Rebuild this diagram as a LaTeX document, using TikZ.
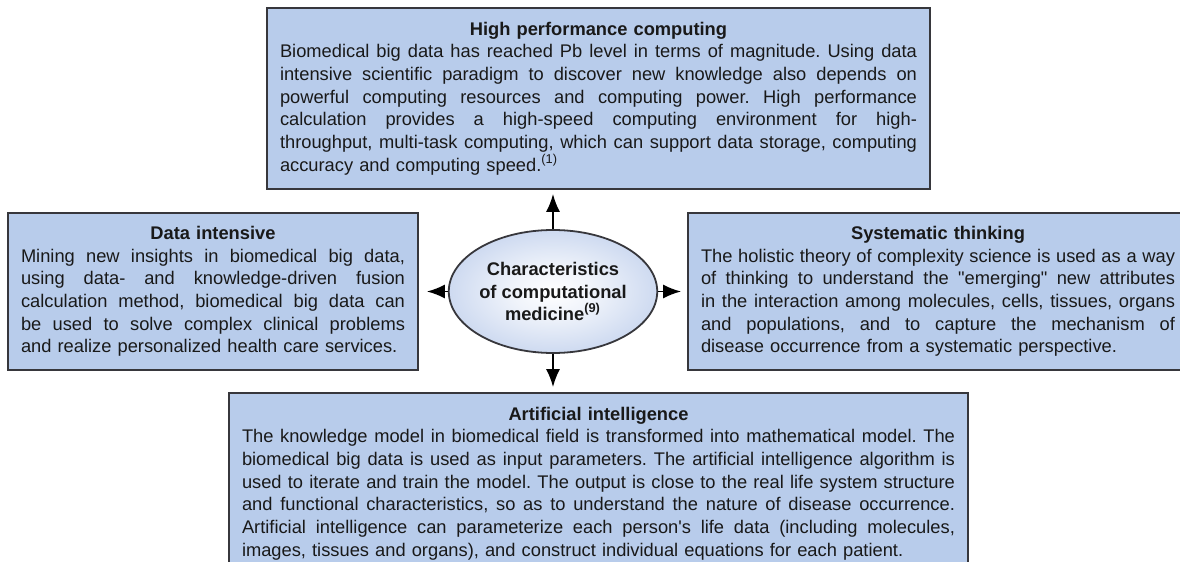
\documentclass[tikz,border=0pt]{standalone}
\usepackage{fontspec}
\setmainfont{Liberation Sans}[Ligatures=TeXOff]
\usetikzlibrary{arrows.meta,shapes.geometric}
\frenchspacing

\definecolor{boxblue}{RGB}{184,204,235}
\definecolor{coreblue}{RGB}{150,176,224}
\definecolor{edgegray}{RGB}{55,55,60}
\pgfdeclareradialshading{coreshade}{\pgfpoint{0bp}{0bp}}{color(0bp)=(white); color(10bp)=(white!85!coreblue); color(50bp)=(coreblue)}

% one printed line of a box: justified, last line, title
\newcommand{\jl}[1]{\hbox to\hsize{\spaceskip=0.278em plus 1fil minus 0.09em\relax #1}}
\newcommand{\lastl}[1]{\hbox to\hsize{#1\hfil}}
\newcommand{\ttl}[1]{\hbox to\hsize{\hfil\bfseries #1\hfil}}

\begin{document}
\begin{tikzpicture}[x=0.5pt,y=-0.5pt,
  txt/.style={font=\fontsize{9.15}{11.35}\selectfont, text=black!90},
  card/.style={txt, draw=edgegray, line width=0.9pt, fill=boxblue, inner xsep=6.5pt, inner ysep=0pt},
  core/.style={ellipse, draw=edgegray, line width=0.9pt, shading=coreshade, minimum width=100pt, minimum height=61.5pt, inner sep=0pt, align=center, text=black!90, font=\fontsize{9.15}{11.2}\selectfont\bfseries},
  arr/.style={-{Latex[length=9pt,width=7pt]}, line width=0.9pt}]

  \useasboundingbox (0,0) rectangle (1180,562);

  \node[card, text width=318.5pt, minimum height=90.5pt] (H) at (598.5,98.5) {%
    \ttl{High performance computing}
    \jl{Biomedical big data has reached Pb level in terms of magnitude. Using data}
    \jl{intensive scientific paradigm to discover new knowledge also depends on}
    \jl{powerful computing resources and computing power. High performance}
    \jl{calculation provides a high-speed computing environment for high-}
    \jl{throughput, multi-task computing, which can support data storage, computing}
    \lastl{accuracy and computing speed.\textsuperscript{(1)}}};

  \node[card, text width=192pt, minimum height=78.5pt] (D) at (213,291.5) {%
    \ttl{Data intensive}
    \jl{Mining new insights in biomedical big data,}
    \jl{using data- and knowledge-driven fusion}
    \jl{calculation method, biomedical big data can}
    \jl{be used to solve complex clinical problems}
    \lastl{and realize personalized health care services.}};

  \node[card, text width=237pt, minimum height=78.5pt] (S) at (938,291.5) {%
    \ttl{Systematic thinking}
    \jl{The holistic theory of complexity science is used as a way}
    \jl{of thinking to understand the "emerging" new attributes}
    \jl{in the interaction among molecules, cells, tissues, organs}
    \jl{and populations, and to capture the mechanism of}
    \lastl{disease occurrence from a systematic perspective.}};

  \node[card, text width=356.5pt, minimum height=90.5pt] (A) at (598.5,483.5) {%
    \ttl{Artificial intelligence}
    \jl{The knowledge model in biomedical field is transformed into mathematical model. The}
    \jl{biomedical big data is used as input parameters. The artificial intelligence algorithm is}
    \jl{used to iterate and train the model. The output is close to the real life system structure}
    \jl{and functional characteristics, so as to understand the nature of disease occurrence.}
    \jl{Artificial intelligence can parameterize each person's life data (including molecules,}
    \lastl{images, tissues and organs), and construct individual equations for each patient.}};

  \node[core] (C) at (553,291.5) {Characteristics\\of computational\\medicine\textsuperscript{(9)}};

  \draw[arr, shorten >=2pt] (C.north) -- (C.north |- H.south);
  \draw[arr, shorten >=2.5pt] (C.south) -- (C.south |- A.north);
  \draw[arr, shorten >=4pt] (C.west) -- (D.east);
  \draw[arr, shorten >=3pt] (C.east) -- (S.west);
\end{tikzpicture}
\end{document}
